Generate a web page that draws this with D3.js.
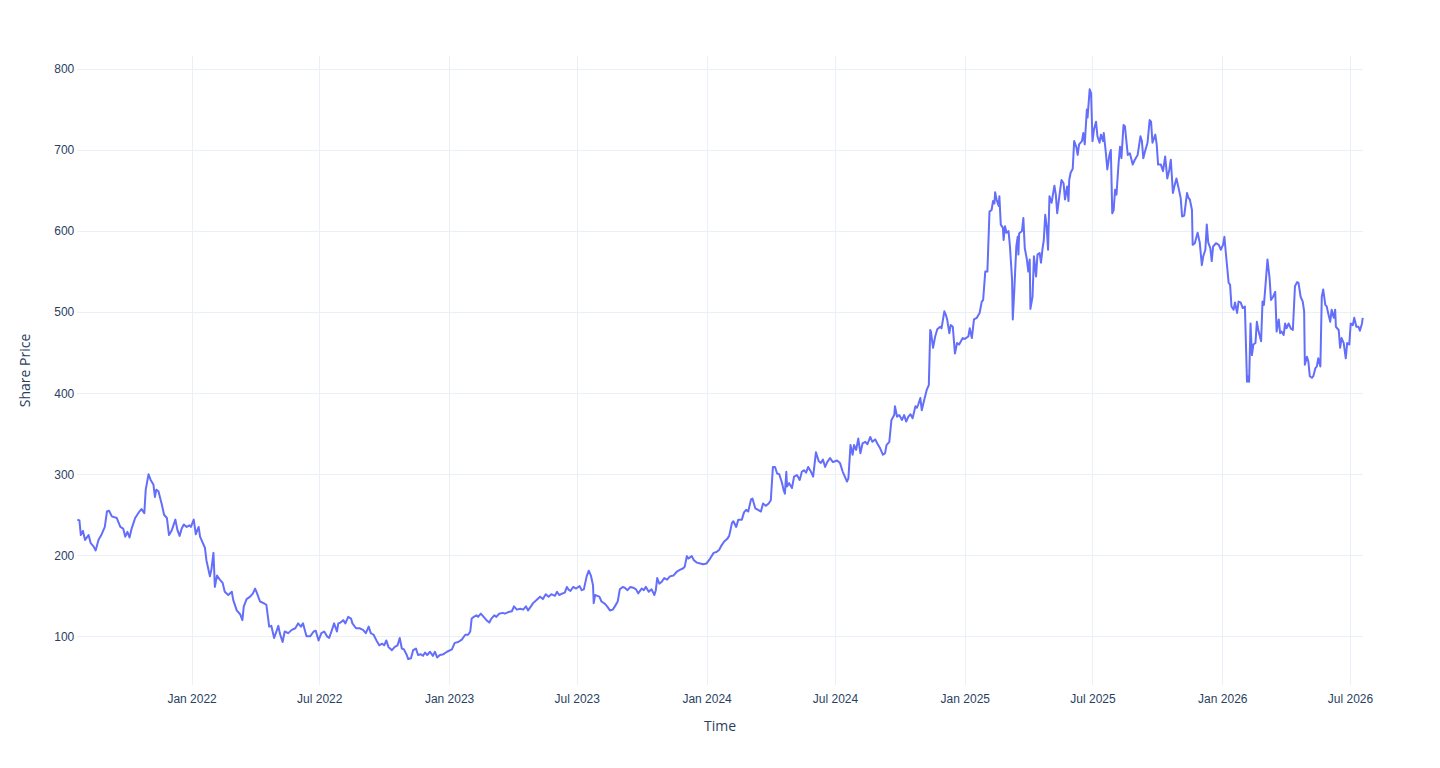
<!DOCTYPE html>
<html>
<head>
<meta charset="utf-8">
<script src="https://cdn.jsdelivr.net/npm/d3@7"></script>
<style>
  body { margin: 0; background: #fff; }
  svg { font-family: "Open Sans", verdana, arial, sans-serif; }
  .grid line { stroke: #ebf0f8; stroke-width: 1px; shape-rendering: crispEdges; }
  .grid text { fill: #2a3f5f; font-size: 12px; }
  .price-line { fill: none; stroke: #636efa; stroke-width: 2px; stroke-linejoin: round; }
  .axis-title { fill: #2a3f5f; font-size: 14px; }
</style>
</head>
<body>
<div id="chart"></div>
<script>
  // series: trading days counted from the first date, and the closing price
  const startDate = '2021-07-23';

  const days = [
    0,3,5,8,11,16,19,23,26,30,34,39,42,45,49,56,61,65,68,71,74,77,82,88,91,95,97,101,104,108,
    110,112,115,120,123,127,130,134,139,142,145,148,151,155,159,161,165,168,172,174,178,181,183,188,190,
    193,195,198,202,206,209,214,219,221,226,231,234,236,240,245,249,252,254,259,264,268,272,275,279,285,
    287,291,294,299,304,309,313,317,320,323,325,330,335,338,342,346,350,354,357,361,364,368,370,373,377,
    380,384,388,390,395,400,405,409,413,416,420,424,428,432,435,438,441,446,450,454,457,460,463,467,469,
    473,476,480,483,487,490,493,496,500,504,507,510,514,519,524,
    531,535,540,545,550,554,557,559,562,566,568,572,576,580,584,587,591,594,598,603,606,611,616,619,623,
    628,632,636,639,643,646,651,656,660,664,668,672,677,680,683,688,691,694,696,699,703,707,712,715,718,
    722,725,728,731,732,734,737,740,743,748,751,755,759,762,766,769,773,776,780,784,788,792,795,800,803,
    806,810,814,818,820,822,825,828,832,836,840,845,850,854,859,861,864,866,871,874,878,883,887,892,
    897,902,906,910,913,917,921,924,928,930,934,937,942,945,948,951,955,957,961,965,969,972,976,980,983,
    986,989,992,995,999,1001,1003,1005,1006,1009,1013,1016,1020,1024,1027,1030,1033,1036,1040,1043,
    1047,1051,1054,1057,1060,1063,1067,1071,1074,1077,1081,1085,1088,1091,1093,1096,1099,1101,1104,1107,
    1110,1113,1117,1120,1124,1127,1131,1134,1138,1142,1145,1147,1151,1154,1158,1159,1162,1165,1169,1172,
    1175,1178,1181,1184,1188,1190,1192,1195,1197,1200,1204,1207,1209,1210,1213,1216,1219,1223,1225,1229,
    1231,1233,1236,1238,1241,1244,1247,1250,
    1255,1258,1263,1265,1268,1271,1275,1279,1282,1284,1287,1290,1293,1296,1298,1300,1301,1303,1306,1307,
    1309,1312,1313,1315,1317,1320,1322,1325,1326,1328,1331,1333,1334,1335,1339,1341,1343,1346,1348,1350,
    1351,1354,1356,1359,1361,1364,1366,1368,1370,1372,1374,1376,1378,1381,1385,1387,1389,1392,1395,1398,
    1400,1403,1405,1406,1408,1411,1413,1416,1418,1420,1424,1426,1428,1431,1432,1435,1437,1439,1441,1444,
    1446,1449,1451,1454,1455,1458,1460,1463,1465,1467,1469,1471,1473,1476,1478,1480,1483,1485,1489,1492,
    1496,1499,1503,1507,1509,1511,1514,1517,1520,1522,1524,1528,1530,
    1532,1536,1539,1542,1545,1548,1550,1553,1555,1558,1561,1564,1566,1569,1573,1575,1577,1580,1581,1584,
    1588,1591,1594,1596,1599,1601,1603,1606,1608,1610,1614,1618,1621,1624,1626,1628,1632,1634,1636,1639,
    1641,1644,1646,1649,1652,1655,1658,1660,1661,1663,1665,1667,1670,1672,1674,1678,1680,1682,1685,1687,
    1690,1692,1695,1698,1700,1703,1705,1707,1710,1712,1714,1717,1720,1723,1726,1729,1731,1734,1737,1739,
    1740,1743,1745,1747,1750,1752,1755,1757,1759,1762,1764,1766,1769,1771,1773,1776,1778,1781,1783,1784,
    1788,1790,1792,1795,1798,1800,1803,1805,1808,1810,1813,1816,1818,1821,1822
  ];

  const prices = [
    244,243,225,230,219,225,215,211,206,219,225,235,254,255,248,246,235,233,223,229,222,233,246,254,257,252,281,300,293,287,
    272,281,279,262,250,246,225,231,244,231,224,233,238,235,237,235,244,226,235,223,215,209,194,174,182,
    203,161,175,170,166,155,151,155,145,132,127,120,137,146,149,153,159,155,143,141,139,112,113,98,113,
    104,93,106,104,108,110,116,112,116,106,100,100,106,107,95,104,106,100,98,108,116,106,116,117,120,
    116,124,122,116,110,110,108,104,112,104,102,95,89,91,89,95,87,83,87,89,98,85,84,77,72,
    73,83,85,77,78,76,80,77,81,76,81,74,77,78,81,
    84,92,93,96,102,102,106,122,124,126,124,128,124,120,117,122,126,124,128,129,128,130,131,137,133,
    134,133,137,132,137,141,145,149,146,152,149,152,150,155,151,153,154,161,158,156,161,159,162,157,158,
    174,181,175,163,141,151,150,149,143,140,137,132,133,137,143,158,161,160,157,161,160,158,153,159,157,
    161,155,158,151,157,172,165,167,172,170,174,175,180,182,184,186,199,196,199,194,191,190,189,190,
    196,203,204,207,212,217,220,224,240,242,235,244,244,253,256,254,269,270,258,256,254,264,261,264,268,
    309,309,301,300,289,281,276,303,285,289,283,297,299,293,303,305,302,309,303,297,
    327,316,314,318,309,315,320,315,316,317,314,303,297,291,295,336,324,336,330,344,
    326,338,340,337,346,340,343,338,332,324,326,336,340,367,373,384,371,373,367,373,
    365,371,374,369,384,382,386,394,379,390,404,410,478,476,456,470,479,482,480,501,
    497,491,474,484,482,449,462,460,
    468,467,470,480,468,491,493,499,513,515,550,550,624,626,637,634,648,639,631,643,
    608,604,589,606,598,600,581,540,491,524,581,593,571,597,600,616,579,565,550,565,
    504,519,569,544,571,573,561,577,589,620,606,577,643,635,656,645,622,643,663,659,
    639,655,637,663,672,677,711,704,694,707,711,721,707,750,740,775,770,711,725,735,
    717,709,719,711,721,696,676,694,700,622,626,651,645,684,704,690,731,729,694,696,
    682,688,694,717,711,690,700,709,737,735,709,719,707,
    682,682,674,692,665,676,688,647,655,665,653,641,618,619,647,641,639,626,583,585,
    598,586,558,569,577,608,586,579,563,581,585,583,577,583,593,573,536,534,507,503,
    512,499,513,512,505,507,414,421,414,486,447,460,462,488,478,464,513,509,542,565,
    542,515,519,525,476,491,474,476,472,486,480,486,480,478,532,537,536,519,513,501,
    435,445,439,421,419,421,431,433,443,433,519,528,509,507,499,488,503,493,503,482,
    478,456,468,462,443,462,460,486,484,493,482,482,477,486,493
  ];

  const xTickLabels = ['Jan 2022', 'Jul 2022', 'Jan 2023', 'Jul 2023', 'Jan 2024',
                       'Jul 2024', 'Jan 2025', 'Jul 2025', 'Jan 2026', 'Jul 2026'];
  const yTicks = [100, 200, 300, 400, 500, 600, 700, 800];
  const yRange = [40, 816];

  const xTitle = 'Time';
  const yTitle = 'Share Price';

  const w = 1440;
  const h = 768;
  const margin = {top: 56, right: 77.3, bottom: 83, left: 77.3};
  const plotW = w - margin.left - margin.right;
  const plotH = h - margin.top - margin.bottom;

  const start = d3.timeParse('%Y-%m-%d')(startDate);
  const data = d3.zip(days, prices).map(([d, p]) => ({date: d3.timeDay.offset(start, d), price: p}));

  const x = d3.scaleTime()
    .domain(d3.extent(data, d => d.date))
    .range([0, plotW]);
  const y = d3.scaleLinear()
    .domain(yRange)
    .range([plotH, 0]);

  const svg = d3.select('#chart')
    .append('svg')
      .attr('width', w)
      .attr('height', h);

  const plot = svg.append('g')
    .attr('transform', 'translate(' + margin.left + ',' + margin.top + ')');

  // horizontal grid + price labels
  const yAxis = plot.append('g')
    .attr('class', 'grid')
    .call(d3.axisLeft(y).tickValues(yTicks).tickSize(-plotW).tickPadding(3));
  yAxis.select('.domain').remove();

  // vertical grid + month labels
  const parseTick = d3.timeParse('%b %Y');
  const xAxis = plot.append('g')
    .attr('class', 'grid')
    .attr('transform', 'translate(0,' + plotH + ')')
    .call(d3.axisBottom(x)
      .tickValues(xTickLabels.map(parseTick))
      .tickFormat(d3.timeFormat('%b %Y'))
      .tickSize(-plotH));
  xAxis.select('.domain').remove();
  xAxis.selectAll('text')
    .attr('dy', null)
    .attr('y', 18);

  const line = d3.line()
    .x(d => x(d.date))
    .y(d => y(d.price));

  plot.append('path')
    .datum(data)
    .attr('class', 'price-line')
    .attr('d', line);

  svg.append('text')
    .attr('class', 'axis-title')
    .attr('x', margin.left + plotW / 2)
    .attr('y', 731)
    .attr('text-anchor', 'middle')
    .text(xTitle);

  svg.append('text')
    .attr('class', 'axis-title')
    .attr('transform', 'translate(30,' + (margin.top + plotH / 2) + ') rotate(-90)')
    .attr('text-anchor', 'middle')
    .text(yTitle);
</script>
</body>
</html>
